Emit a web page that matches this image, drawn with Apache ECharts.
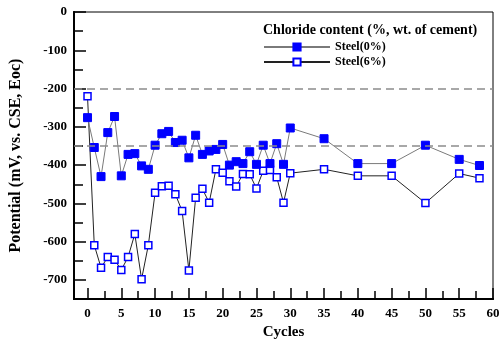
<!DOCTYPE html>
<html>
<head>
<meta charset="utf-8">
<script src="https://cdn.jsdelivr.net/npm/echarts@6/dist/echarts.min.js"></script>
<style>
  html, body { margin: 0; padding: 0; background: #fff; }
  #chart { width: 504px; height: 345px; }
</style>
</head>
<body>
<div id="chart"></div>
<script>
// cycles (x) and open-circuit potentials (mV vs CSE)
const cycles = [0, 1, 2, 3, 4, 5, 6, 7, 8, 9, 10, 11, 12, 13, 14, 15, 16, 17, 18, 19, 20,
  21, 22, 23, 24, 25, 26, 27, 28, 29, 30, 35, 40, 45, 50, 55, 58];
const steel0 = [-276, -354, -430, -315, -273, -428, -372, -370, -402, -411, -348, -318, -312,
  -341, -335, -381, -322, -372, -363, -359, -346, -400, -391, -396, -365, -398, -348, -396,
  -344, -398, -303, -331, -396, -396, -348, -385, -401];
const steel6 = [-220, -609, -668, -640, -647, -674, -640, -580, -698, -609, -472, -455, -454,
  -476, -520, -675, -485, -462, -498, -411, -420, -442, -456, -423, -424, -461, -415, -413,
  -432, -498, -421, -411, -428, -428, -499, -422, -434];

const refLines = [-200, -350];
const xLabels = [0, 5, 10, 15, 20, 25, 30, 35, 40, 45, 50, 55, 60];
const xMinor = [2.5, 7.5, 12.5, 17.5, 22.5, 27.5, 32.5, 37.5, 42.5, 47.5, 52.5, 57.5];
const yLabels = [0, -100, -200, -300, -400, -500, -600, -700];

const font = 'Liberation Serif';
const pairs = (ys) => cycles.map((c, i) => [c, ys[i]]);

const chart = echarts.init(document.getElementById('chart'));
chart.setOption({
  animation: false,
  title: {
    text: 'Chloride content (%, wt. of cement)',
    left: 258,
    top: 18,
    textStyle: { fontFamily: font, fontWeight: 'bold', fontSize: 14, color: '#000' },
  },
  legend: {
    left: 258,
    top: 36,
    orient: 'vertical',
    itemWidth: 66,
    itemHeight: 9,
    itemGap: 3,
    textStyle: { fontFamily: font, fontWeight: 'bold', fontSize: 12, color: '#000' },
  },
  grid: {
    left: 72,
    right: 11,
    top: 12,
    bottom: 44,
    show: true,
    borderColor: '#000',
    borderWidth: 1,
  },
  xAxis: [
    {
      type: 'value',
      min: -2,
      max: 60,
      position: 'bottom',
      axisLine: { onZero: false, lineStyle: { color: '#000', width: 2 } },
      axisTick: { inside: true, length: 8, customValues: xMinor, lineStyle: { color: '#000', width: 1.5 } },
      axisLabel: { show: false },
      splitLine: { show: false },
    },
    {
      type: 'value',
      min: -2,
      max: 60,
      position: 'bottom',
      name: 'Cycles',
      nameLocation: 'middle',
      nameGap: 21,
      nameTextStyle: { fontFamily: font, fontWeight: 'bold', fontSize: 15, color: '#000' },
      axisLine: { onZero: false, lineStyle: { color: '#000', width: 2 } },
      axisTick: { inside: true, length: 11, customValues: xLabels, lineStyle: { color: '#000', width: 1.5 } },
      axisLabel: {
        customValues: xLabels,
        margin: 8,
        fontFamily: font,
        fontWeight: 'bold',
        fontSize: 13,
        color: '#000',
      },
      splitLine: { show: false },
    },
  ],
  yAxis: [
    {
      type: 'value',
      min: -750,
      max: 0,
      interval: 50,
      position: 'left',
      name: 'Potential (mV, vs. CSE, Eoc)',
      nameLocation: 'middle',
      nameGap: 50,
      nameTextStyle: { fontFamily: font, fontWeight: 'bold', fontSize: 16, color: '#000' },
      axisLine: { onZero: false, lineStyle: { color: '#000', width: 2 } },
      axisTick: { inside: true, length: 9, lineStyle: { color: '#000', width: 1.5 } },
      axisLabel: {
        margin: 7,
        fontFamily: font,
        fontWeight: 'bold',
        fontSize: 13,
        color: '#000',
        formatter: (v) => (yLabels.indexOf(v) >= 0 ? String(v) : ''),
      },
      splitLine: { show: false },
    },
    {
      type: 'value',
      min: -750,
      max: 0,
      position: 'left',
      axisLine: { onZero: false, lineStyle: { color: '#000', width: 2 } },
      axisTick: { inside: true, length: 12, customValues: yLabels, lineStyle: { color: '#000', width: 1.5 } },
      axisLabel: { show: false },
      splitLine: { show: false },
    },
  ],
  series: [
    {
      name: 'Steel(0%)',
      type: 'line',
      data: pairs(steel0),
      symbol: 'rect',
      symbolSize: 8,
      itemStyle: { color: '#0000ff', borderColor: '#0000ff', borderWidth: 1 },
      lineStyle: { color: '#7a7a7a', width: 1 },
      markLine: {
        silent: true,
        symbol: 'none',
        label: { show: false },
        lineStyle: { color: '#8c8c8c', type: [8, 5], width: 1.5 },
        data: refLines.map((v) => ({ yAxis: v })),
      },
      z: 3,
    },
    {
      name: 'Steel(6%)',
      type: 'line',
      data: pairs(steel6),
      symbol: 'rect',
      symbolSize: 7,
      showAllSymbol: true,
      itemStyle: { color: '#ffffff', borderColor: '#0000ff', borderWidth: 1.5 },
      lineStyle: { color: '#222', width: 1 },
      z: 2,
    },
  ],
});
</script>
</body>
</html>
